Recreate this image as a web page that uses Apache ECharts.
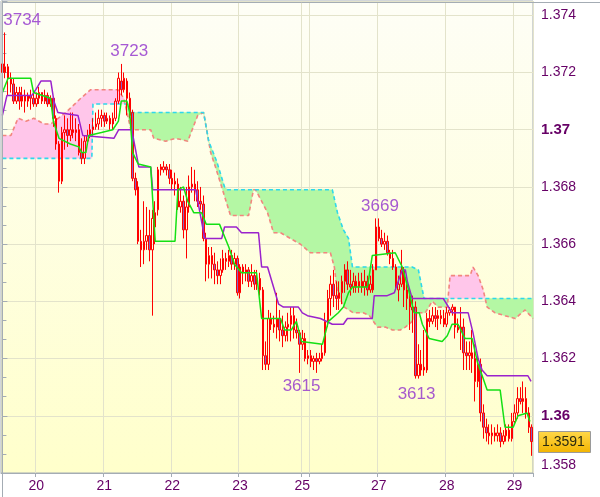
<!DOCTYPE html>
<html><head><meta charset="utf-8">
<script src="https://cdn.jsdelivr.net/npm/echarts@6/dist/echarts.min.js"></script>
<style>html,body{margin:0;padding:0;background:#fff}#c{width:600px;height:497px}</style>
</head><body><div id="c"></div>
<script>
// ---- data (H1 candles) ----
const days = ['19','20','21','22','23','25','26','27','28','29'];
const hoursPerDay = [12,24,24,24,22,3,24,24,24,7];
const firstHour = [12,0,0,0,0,21,0,0,0,0];
const labelledDays = ['20','21','22','23','25','27','28','29'];

// [open, close, low, high]
const candles = [
[1.3723,1.3720,1.3717,1.3731],[1.3720,1.3722,1.3718,1.3734],[1.3722,1.3718,1.3712,1.3723],[1.3718,1.3716,1.3713,1.3720],
[1.3716,1.3710,1.3709,1.3718],[1.3710,1.3713,1.3709,1.3715],[1.3713,1.3710,1.3707,1.3715],[1.3710,1.3712,1.3708,1.3715],
[1.3712,1.3710,1.3706,1.3714],[1.3710,1.3712,1.3708,1.3713],[1.3712,1.3711,1.3707,1.3714],[1.3711,1.3709,1.3708,1.3713],
// 20
[1.3709,1.3711,1.3708,1.3713],[1.3711,1.3713,1.3709,1.3715],[1.3713,1.3710,1.3709,1.3713],[1.3710,1.3712,1.3709,1.3714],
[1.3712,1.3709,1.3708,1.3713],[1.3709,1.3711,1.3708,1.3712],[1.3711,1.3704,1.3701,1.3711],[1.3704,1.3695,1.3693,1.3705],
[1.3695,1.3682,1.3678,1.3696],[1.3682,1.3699,1.3681,1.3701],[1.3699,1.3700,1.3693,1.3705],[1.3700,1.3698,1.3694,1.3704],
[1.3698,1.3700,1.3696,1.3706],[1.3700,1.3699,1.3697,1.3706],[1.3699,1.3700,1.3696,1.3704],[1.3700,1.3692,1.3691,1.3702],
[1.3692,1.3690,1.3688,1.3697],[1.3690,1.3696,1.3688,1.3698],[1.3696,1.3698,1.3695,1.3700],[1.3698,1.3700,1.3697,1.3702],
[1.3700,1.3701,1.3698,1.3704],[1.3701,1.3702,1.3700,1.3706],[1.3702,1.3704,1.3700,1.3707],[1.3704,1.3705,1.3701,1.3707],
// 21
[1.3705,1.3703,1.3701,1.3706],[1.3703,1.3704,1.3702,1.3706],[1.3704,1.3702,1.3700,1.3705],[1.3702,1.3704,1.3700,1.3706],
[1.3704,1.3710,1.3703,1.3711],[1.3710,1.3718,1.3709,1.3720],[1.3717,1.3714,1.3712,1.3723],[1.3714,1.3718,1.3713,1.3720],
[1.3717,1.3711,1.3705,1.3718],[1.3711,1.3705,1.3704,1.3713],[1.3706,1.3683,1.3682,1.3707],[1.3683,1.3679,1.3677,1.3685],
[1.3680,1.3661,1.3660,1.3682],[1.3661,1.3658,1.3652,1.3665],[1.3658,1.3661,1.3653,1.3675],[1.3661,1.3663,1.3658,1.3673],
[1.3663,1.3658,1.3654,1.3672],[1.3658,1.3669,1.3635,1.3672],[1.3666,1.3671,1.3660,1.3675],[1.3672,1.3686,1.3670,1.3687],
[1.3686,1.3687,1.3684,1.3688],[1.3686,1.3687,1.3685,1.3689],[1.3687,1.3686,1.3684,1.3688],[1.3686,1.3683,1.3681,1.3688],
// 22
[1.3683,1.3681,1.3679,1.3686],[1.3681,1.3682,1.3677,1.3685],[1.3681,1.3673,1.3672,1.3683],[1.3673,1.3675,1.3671,1.3680],
[1.3675,1.3665,1.3662,1.3677],[1.3665,1.3673,1.3655,1.3680],[1.3673,1.3680,1.3671,1.3684],[1.3680,1.3681,1.3678,1.3687],
[1.3681,1.3679,1.3675,1.3686],[1.3679,1.3675,1.3673,1.3682],[1.3675,1.3674,1.3672,1.3680],[1.3674,1.3662,1.3661,1.3677],
[1.3662,1.3653,1.3647,1.3664],[1.3653,1.3656,1.3648,1.3659],[1.3656,1.3653,1.3648,1.3659],[1.3653,1.3651,1.3646,1.3657],
[1.3651,1.3649,1.3646,1.3654],[1.3649,1.3651,1.3646,1.3655],[1.3651,1.3655,1.3650,1.3658],[1.3655,1.3654,1.3651,1.3657],
[1.3654,1.3656,1.3652,1.3658],[1.3656,1.3653,1.3651,1.3658],[1.3653,1.3655,1.3651,1.3657],[1.3655,1.3643,1.3642,1.3656],
// 23
[1.3643,1.3652,1.3641,1.3653],[1.3652,1.3650,1.3646,1.3653],[1.3650,1.3651,1.3647,1.3653],[1.3651,1.3647,1.3645,1.3652],
[1.3647,1.3649,1.3645,1.3653],[1.3649,1.3646,1.3644,1.3651],[1.3646,1.3648,1.3644,1.3651],[1.3648,1.3644,1.3642,1.3650],
[1.3644,1.3621,1.3616,1.3645],[1.3621,1.3618,1.3616,1.3626],[1.3618,1.3634,1.3616,1.3637],[1.3634,1.3632,1.3630,1.3636],
[1.3632,1.3631,1.3629,1.3635],[1.3631,1.3634,1.3627,1.3643],[1.3634,1.3630,1.3626,1.3637],[1.3630,1.3628,1.3624,1.3635],
[1.3628,1.3631,1.3626,1.3633],[1.3631,1.3632,1.3626,1.3636],[1.3632,1.3635,1.3626,1.3638],[1.3635,1.3630,1.3627,1.3638],
[1.3630,1.3629,1.3627,1.3634],[1.3629,1.3625,1.3615,1.3630],
// 25
[1.3625,1.3627,1.3623,1.3630],[1.3627,1.3620,1.3619,1.3629],[1.3620,1.3621,1.3618,1.3623],
// 26
[1.3621,1.3619,1.3617,1.3623],[1.3619,1.3620,1.3616,1.3621],[1.3620,1.3619,1.3615,1.3622],[1.3619,1.3620,1.3618,1.3622],
[1.3620,1.3622,1.3619,1.3625],[1.3622,1.3633,1.3621,1.3636],[1.3633,1.3641,1.3631,1.3644],[1.3641,1.3646,1.3635,1.3649],
[1.3646,1.3642,1.3638,1.3651],[1.3642,1.3641,1.3637,1.3647],[1.3641,1.3643,1.3637,1.3647],[1.3643,1.3647,1.3639,1.3649],
[1.3647,1.3651,1.3643,1.3653],[1.3651,1.3646,1.3644,1.3654],[1.3646,1.3645,1.3642,1.3651],[1.3645,1.3647,1.3643,1.3650],
[1.3647,1.3645,1.3643,1.3649],[1.3645,1.3647,1.3643,1.3650],[1.3647,1.3645,1.3643,1.3650],[1.3645,1.3647,1.3642,1.3651],
[1.3647,1.3644,1.3642,1.3649],[1.3644,1.3646,1.3643,1.3649],[1.3644,1.3651,1.3643,1.3653],[1.3651,1.3666,1.3651,1.3669],
// 27
[1.3666,1.3662,1.3661,1.3669],[1.3662,1.3660,1.3659,1.3665],[1.3660,1.3661,1.3658,1.3664],[1.3661,1.3657,1.3656,1.3663],
[1.3657,1.3655,1.3653,1.3658],[1.3655,1.3652,1.3651,1.3658],[1.3652,1.3645,1.3644,1.3653],[1.3644,1.3646,1.3640,1.3649],
[1.3646,1.3651,1.3645,1.3658],[1.3651,1.3644,1.3638,1.3652],[1.3644,1.3641,1.3637,1.3646],[1.3641,1.3638,1.3630,1.3644],
[1.3638,1.3637,1.3629,1.3642],[1.3638,1.3614,1.3613,1.3640],[1.3614,1.3618,1.3613,1.3625],[1.3618,1.3616,1.3614,1.3623],
[1.3616,1.3617,1.3614,1.3630],[1.3616,1.3634,1.3615,1.3636],[1.3634,1.3633,1.3631,1.3637],[1.3633,1.3635,1.3632,1.3638],
[1.3635,1.3634,1.3631,1.3638],[1.3634,1.3635,1.3630,1.3637],[1.3635,1.3634,1.3632,1.3637],[1.3634,1.3632,1.3631,1.3637],
// 28
[1.3632,1.3636,1.3631,1.3638],[1.3636,1.3637,1.3635,1.3638],[1.3637,1.3638,1.3635,1.3639],[1.3638,1.3631,1.3627,1.3638],
[1.3631,1.3630,1.3629,1.3634],[1.3630,1.3631,1.3623,1.3638],[1.3631,1.3622,1.3616,1.3634],[1.3622,1.3621,1.3616,1.3626],
[1.3621,1.3622,1.3616,1.3626],[1.3622,1.3620,1.3615,1.3630],[1.3620,1.3612,1.3605,1.3625],[1.3612,1.3618,1.3610,1.3621],
[1.3618,1.3601,1.3598,1.3620],[1.3601,1.3596,1.3592,1.3604],[1.3596,1.3594,1.3591,1.3599],[1.3594,1.3593,1.3590,1.3597],
[1.3593,1.3594,1.3590,1.3597],[1.3594,1.3593,1.3591,1.3596],[1.3593,1.3594,1.3591,1.3597],[1.3594,1.3591,1.3589,1.3596],
[1.3591,1.3593,1.3590,1.3595],[1.3593,1.3595,1.3591,1.3597],[1.3595,1.3592,1.3591,1.3597],[1.3592,1.3598,1.3591,1.3601],
// 29
[1.3598,1.3601,1.3597,1.3604],[1.3601,1.3606,1.3599,1.3610],[1.3606,1.3605,1.3604,1.3610],[1.3605,1.3606,1.3601,1.3612],
[1.3606,1.3601,1.3599,1.3610],[1.3601,1.3596,1.3594,1.3603],[1.3596,1.3591,1.3586,1.3597]
];

// Ichimoku lines: [candle index, price]
const tenkan = [[0,1.3713],[2,1.3718],[10,1.3718],[11,1.3713],[17,1.3711],[18,1.3703],[20,1.3697],[24,1.3695],[27,1.3694],[28,1.3692],[29.5,1.3692],[30.5,1.3698],[35,1.3699],[39,1.3700],[41,1.3703],[42,1.3710],[44,1.3710],[45,1.3706],[46,1.3692],[48,1.3688],[52.4,1.3687],[54,1.3661],[61,1.3661],[62,1.3679],[64,1.3680],[65.5,1.3675],[67.6,1.3671],[70.4,1.3671],[72,1.3667],[76.7,1.3667],[80,1.3659],[82,1.3653],[84.5,1.3650],[89.8,1.3650],[91.6,1.3634],[98.3,1.3634],[99.7,1.3630],[102.1,1.3630],[103.9,1.3633],[105.7,1.3626],[113.1,1.3625],[115.2,1.3633],[118.7,1.3636],[120.5,1.3638],[122.3,1.3643],[123.7,1.3645],[129,1.3645],[130.7,1.3656],[138.8,1.3657],[141.3,1.3652],[143.8,1.3643],[145.5,1.3636],[147.3,1.3636],[148.4,1.3632],[150.8,1.3627],[155.4,1.3626],[157.2,1.3628],[158.9,1.3632],[161,1.3632],[163.5,1.3627],[166,1.3627],[167.8,1.3619],[171.3,1.3609],[175.9,1.3609],[177.6,1.3596],[180.5,1.3596],[182.2,1.3600],[185.4,1.3601],[186.4,1.3598]];
const kijun = [[0,1.3705],[1.6,1.3712],[10.4,1.3712],[11.8,1.3714],[13.6,1.3717],[17.1,1.3717],[18.2,1.3710],[19.6,1.3706],[26.7,1.3705],[28.4,1.3698],[39.4,1.3697],[41.1,1.3700],[45.7,1.3700],[48.2,1.3687],[52.4,1.3687],[53.1,1.3679],[68.3,1.3679],[71.5,1.3662],[77.5,1.3662],[78.5,1.3666],[82.7,1.3666],[84.5,1.3664],[90.5,1.3664],[91.6,1.3652],[93.7,1.3652],[95.8,1.3645],[97.6,1.3639],[99.3,1.3638],[104.6,1.3638],[106,1.3636],[107.8,1.3635],[112.4,1.3634],[116.6,1.3632],[120.5,1.3632],[121.9,1.3634],[130.7,1.3634],[131.4,1.3642],[136,1.3642],[138.5,1.3643],[139.9,1.3647],[141.3,1.3651],[142.4,1.3651],[143.1,1.3647],[144.8,1.3641],[155.8,1.3641],[158.9,1.3636],[164.6,1.3636],[166.3,1.3629],[168.1,1.3620],[169.5,1.3616],[171.3,1.3614],[185.7,1.3614],[186.8,1.3612]];
const senkouA = [[0,1.3698],[3,1.3698],[5.5,1.3704],[8.3,1.3703],[11.1,1.3704],[14.7,1.3702],[17.1,1.3702],[22.4,1.3706],[27.7,1.3711],[31.2,1.3714],[40.8,1.3714],[42.9,1.3711],[45.4,1.3700],[52.4,1.3700],[53.5,1.3697],[57.7,1.3696],[61.2,1.3697],[65.5,1.3696],[69,1.3705],[71.1,1.3706],[73.6,1.3692],[75.3,1.3687],[80.6,1.3670],[87,1.3670],[88.7,1.3679],[89.5,1.3679],[93.7,1.3671],[95.8,1.3664],[98.3,1.3664],[105.3,1.3660],[108.8,1.3657],[115.9,1.3657],[117.3,1.3652],[118.4,1.3643],[120.8,1.3638],[124,1.3636],[127.5,1.3636],[129.7,1.3635],[132.5,1.3631],[135.3,1.3631],[137.8,1.3630],[140.6,1.3630],[142.4,1.3631],[144.8,1.3633],[147,1.3636],[149.4,1.3636],[151.9,1.3640],[154,1.3638],[157.2,1.3638],[158.2,1.3649],[165.3,1.3649],[166.3,1.3652],[168.1,1.3649],[169.9,1.3644],[171.3,1.3638],[174.1,1.3636],[177.6,1.3635],[181.2,1.3634],[184.7,1.3637],[187.5,1.3634]];
const senkouB = [[0,1.3690],[31.6,1.3690],[32,1.3709],[44.6,1.3709],[45,1.3706],[71.1,1.3706],[72.9,1.3696],[75.7,1.3689],[78.5,1.3680],[79.6,1.3679],[116.6,1.3679],[118.4,1.3671],[120.5,1.3665],[122.3,1.3662],[123.7,1.3652],[144.8,1.3652],[147,1.3651],[149,1.3641],[187.5,1.3641]];

// marked extremes
const markedHighs = [[1,1.3734],[42,1.3723],[132,1.3669]];
const markedLows = [[105,1.3615],[146,1.3613]];

// ---- build ----
const categories = [];
const dayAt = {};
days.forEach((d, k) => {
  dayAt[categories.length] = d;
  for (let h = 0; h < hoursPerDay[k]; h++) {
    categories.push(d + ' ' + String(firstHour[k] + h).padStart(2, '0') + ':00');
  }
});
const N = categories.length;
const isDayStart = i => i > 0 && dayAt[i] !== undefined;
const isLabelled = i => isDayStart(i) && labelledDays.indexOf(dayAt[i]) >= 0;

const TXT = '#660066';
const FONT = 'Liberation Sans, Arial, sans-serif';
const PINK = '#FFC6EA', GREEN = '#B4F7A4';
const GRIDC = '#E3E3CB', AXC = '#A4ACB4';

const chart = echarts.init(document.getElementById('c'), null, {renderer: 'canvas'});

const code = v => String(Math.round(v * 10000) % 10000);

const highOffsets = [[-2, 0, 'left'], [8, 0, 'center'], [4, 0, 'center']];
const lowOffsets = [[2, 0], [1, 2]];

const option = {
  animation: false,
  backgroundColor: '#ffffff',
  grid: {
    left: 1, right: 67, top: 1, bottom: 24, show: true, containLabel: false, outerBoundsMode: 'none',
    backgroundColor: new echarts.graphic.LinearGradient(0, 0, 0, 1, [
      {offset: 0, color: '#FEFEF6'}, {offset: 1, color: '#FFFFCB'}]),
    borderColor: AXC, borderWidth: 1
  },
  xAxis: [{
    type: 'category', data: categories, boundaryGap: true,
    axisLine: {show: true, lineStyle: {color: AXC}},
    axisTick: {show: true, interval: i => isDayStart(i), length: 4, lineStyle: {color: AXC}},
    axisLabel: {interval: i => isLabelled(i), formatter: v => v.split(' ')[0], color: TXT,
      fontSize: 14, fontFamily: FONT, margin: 6},
    splitLine: {show: true, interval: i => isDayStart(i), lineStyle: {color: GRIDC, width: 1}}
  }, {
    type: 'value', min: -0.5, max: N - 0.5, show: false
  }],
  yAxis: {
    type: 'value', position: 'right', min: 1.358, max: 1.3745, interval: 0.002,
    axisLine: {show: true, lineStyle: {color: AXC}},
    axisTick: {show: true, length: 5, lineStyle: {color: AXC}},
    minorTick: {show: true, splitNumber: 3, length: 4, lineStyle: {color: AXC}},
    axisLabel: {
      color: TXT, fontSize: 14, fontFamily: FONT, margin: 8,
      formatter: v => {
        const r = Math.round(v * 10000);
        if (r % 20 !== 0) return '';
        if (r % 100 === 0) return '{b|' + (r / 10000).toFixed(2) + '}';
        if (r === 13580) return '{lo|' + (r / 10000).toFixed(3) + '}';
        return (r / 10000).toFixed(3);
      },
      rich: {
        b: {fontWeight: 'bold', fontSize: 15, color: TXT, fontFamily: FONT},
        lo: {fontSize: 14, color: TXT, fontFamily: FONT, padding: [0, 0, 15, 0]}
      }
    },
    splitLine: {show: true, lineStyle: {color: GRIDC, width: 1}}
  },
  series: [
    {
      type: 'custom', name: 'kumo', xAxisIndex: 1, yAxisIndex: 0, silent: true, z: 1,
      data: [[0, 1.365]],
      renderItem: (params, api) => {
        const A = senkouA.map(p => api.coord(p));
        const B = senkouB.map(p => api.coord(p));
        const xs = Array.from(new Set(A.map(p => p[0]).concat(B.map(p => p[0])))).sort((a, b) => a - b);
        const yAt = (P, x) => {
          if (x <= P[0][0]) return P[0][1];
          for (let k = 1; k < P.length; k++) {
            if (x <= P[k][0]) {
              const t = (x - P[k - 1][0]) / ((P[k][0] - P[k - 1][0]) || 1);
              return P[k - 1][1] + t * (P[k][1] - P[k - 1][1]);
            }
          }
          return P[P.length - 1][1];
        };
        const children = [];
        let cur = null, up = [], dn = [], prev = null;
        const flush = () => {
          if (up.length > 1) children.push({
            type: 'polygon', shape: {points: up.concat(dn.slice().reverse())},
            style: {fill: cur > 0 ? PINK : GREEN, stroke: cur > 0 ? PINK : GREEN, lineWidth: 0.5}
          });
        };
        xs.forEach(x => {
          const a = yAt(A, x), b = yAt(B, x), d = b - a;
          if (prev && prev.d * d < 0) {
            const t = prev.d / (prev.d - d);
            const xc = prev.x + t * (x - prev.x), yc = prev.a + t * (a - prev.a);
            up.push([xc, yc]); dn.push([xc, yc]); flush();
            up = [[xc, yc]]; dn = [[xc, yc]]; cur = d > 0 ? 1 : -1;
          }
          if (cur === null && d !== 0) cur = d > 0 ? 1 : -1;
          up.push([x, a]); dn.push([x, b]);
          prev = {x, a, b, d};
        });
        flush();
        return {type: 'group', children};
      }
    },
    {type: 'line', name: 'Senkou A', xAxisIndex: 1, data: senkouA, symbol: 'none', z: 2, silent: true,
      lineStyle: {color: '#F2867E', width: 1.6, type: [4, 3]}},
    {type: 'line', name: 'Senkou B', xAxisIndex: 1, data: senkouB, symbol: 'none', z: 2, silent: true,
      lineStyle: {color: '#2ED8EC', width: 1.6, type: [4, 3]}},
    {type: 'candlestick', name: 'price', xAxisIndex: 0, data: candles, barWidth: 2, z: 3, silent: true,
      itemStyle: {color: 'rgba(255,255,255,0)', color0: '#8464C4', borderColor: '#FF0000', borderColor0: '#FF0000', borderWidth: 1}},
    {type: 'line', name: 'Kijun', xAxisIndex: 1, data: kijun, symbol: 'none', z: 4, silent: true,
      lineStyle: {color: '#9A22CC', width: 1.5}},
    {type: 'line', name: 'Tenkan', xAxisIndex: 1, data: tenkan, symbol: 'none', z: 5, silent: true,
      lineStyle: {color: '#14E014', width: 1.5}},
    {type: 'scatter', name: 'highs', xAxisIndex: 1, symbolSize: 0, z: 6, silent: true,
      data: markedHighs.map((p, k) => ({value: p, label: {offset: [highOffsets[k][0], highOffsets[k][1]], align: highOffsets[k][2]}})),
      label: {show: true, position: 'top', distance: 4, formatter: p => code(p.value[1]), color: '#9030CC', fontSize: 17, fontFamily: FONT}},
    {type: 'scatter', name: 'lows', xAxisIndex: 1, symbolSize: 0, z: 6, silent: true,
      data: markedLows.map((p, k) => ({value: p, label: {offset: lowOffsets[k]}})),
      label: {show: true, position: 'bottom', distance: 5, formatter: p => code(p.value[1]), color: '#9030CC', fontSize: 17, fontFamily: FONT}}
  ]
};
chart.setOption(option);

// current price tag on the price axis
const lastClose = candles[N - 1][1];
const py = chart.convertToPixel({yAxisIndex: 0}, lastClose);
chart.setOption({
  graphic: [
    {type: 'rect', left: 0, top: 0, z: 100, silent: true,
      shape: {x: 0.5, y: 0.5, width: 599, height: 496}, style: {fill: 'none', stroke: AXC, lineWidth: 1}},
    {type: 'rect', z: 100, silent: true, shape: {x: 538.5, y: Math.round(py) - 10.5, width: 52, height: 21},
      style: {fill: new echarts.graphic.LinearGradient(0, 0, 0, 1, [{offset: 0, color: '#FFD84A'}, {offset: 1, color: '#F2B400'}]), stroke: '#9A9A9A', lineWidth: 1}},
    {type: 'text', z: 101, silent: true, x: 542, y: Math.round(py),
      style: {text: lastClose.toFixed(4), fill: '#2A2A10', font: '14px ' + FONT, verticalAlign: 'middle'}}
  ]
});
</script>
</body></html>
